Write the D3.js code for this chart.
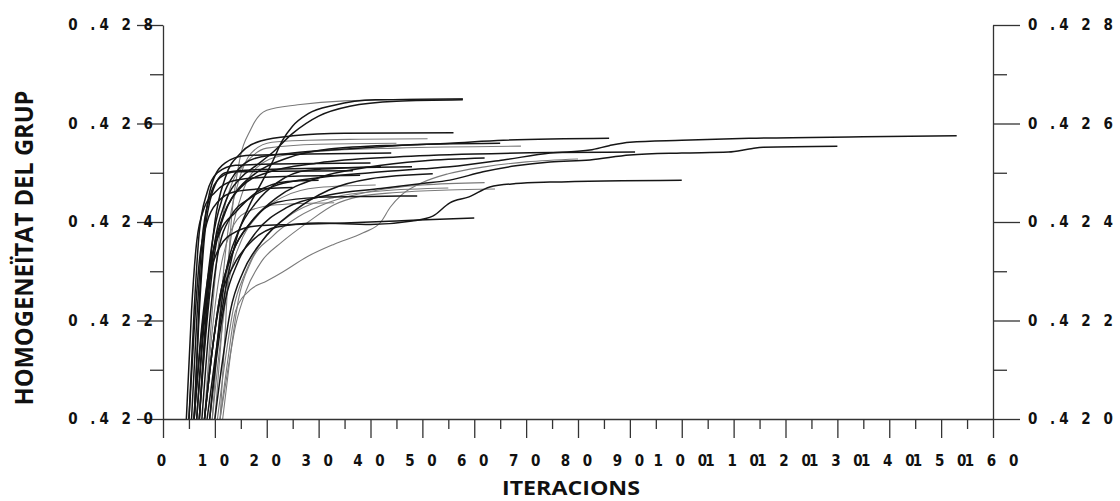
<!DOCTYPE html>
<html>
<head>
<meta charset="utf-8">
<script src="https://cdn.jsdelivr.net/npm/d3@7"></script>
<style>
  html, body { margin: 0; padding: 0; background: #fff; }
  .tick text { font-family: "Liberation Sans Narrow", "DejaVu Sans Condensed", sans-serif; font-weight: bold; font-size: 15px; letter-spacing: 4px; fill: #111; }
  .ttl { font-family: "Open Sans", "Noto Sans", sans-serif; font-weight: bold; fill: #111; }
</style>
</head>
<body>
<div id="vis-tag"></div>
<script>
// eix X: iteracions
const xTicks = d3.range(0, 161, 10);
const xMinor = d3.range(5, 160, 10);
// eix Y: homogeneïtat
const yTicks = [0.420, 0.422, 0.424, 0.426, 0.428];
const yMinor = [0.421, 0.423, 0.425, 0.427];

// sèries [iteració, homogeneïtat], llegides de la figura
const serieA = [[11,.4200],[12,.4218],[13,.4238],[14.5,.4251],[17,.4259],[20,.42627],[26,.42638],[35,.42646],[57.8,.42650]];
const serieB = [[8.5,.4200],[10,.4212],[12,.4226],[14,.4236],[16.5,.4243],[19,.4248],[21,.4252],[23,.42565],[25,.42595],[28,.42620],[33,.42637],[41,.42648],[57.8,.42650]];
const serieC = [[7,.4200],[8.5,.4222],[10,.4236],[12,.4244],[15,.4249],[18,.42515],[21,.4254],[25,.4258],[30,.42615],[36,.42635],[45,.42645],[57.8,.42648]];
const serieD = [[7.5,.4200],[9,.4220],[10.5,.4233],[13,.4241],[17,.4245],[22,.42475],[30,.42490],[40,.42500],[50,.42508],[55.3,.42512],[65.6,.42526],[74.6,.42540],[82.3,.42546],[86,.42555],[90,.42562],[100,.42566],[113,.42570],[135,.42573],[153,.42575]];
const serieE = [[9,.4200],[10.5,.4214],[12,.4224],[14.5,.4232],[18,.4238],[24,.4243],[32,.42455],[42,.42468],[50,.42478],[55.3,.42485],[61.7,.42502],[68,.42514],[74.6,.42522],[82.3,.42526],[90,.42536],[100,.42540],[109,.42542],[113,.42548],[115.7,.42552],[130,.42554]];
const serieF = [[8,.4200],[9.5,.4214],[11,.4224],[13.5,.4231],[17,.4236],[22,.4239],[30,.42398],[40,.42395],[48,.42402],[52,.42412],[55.3,.42439],[59,.42451],[63,.42471],[68,.42478],[74.6,.42481],[100,.42485]];
const serieG = [[6.5,.4200],[8,.4222],[9.5,.4236],[11.5,.4245],[14,.4250],[18,.42530],[25,.42540],[35,.42548],[45,.42555],[55.3,.42560],[65.6,.42566],[86,.42570]];
const serieH = [[7,.4200],[8.5,.4220],[10,.4234],[12,.4242],[15,.4247],[20,.4250],[30,.42520],[45,.42532],[60,.42538],[75,.42541],[91,.42542]];
const serieI = [[10,.4200],[11.5,.4220],[13,.4236],[15,.4245],[18,.4251],[23,.42535],[32,.42545],[45,.42550],[69,.42554]];
const serieJ = [[11,.4200],[12.5,.4212],[14,.4222],[16.8,.42262],[20,.4228],[23,.42298],[27.7,.42329],[33,.42355],[38.6,.42378],[42,.4240],[43.8,.4243],[46,.42455],[50,.4248],[55,.42498],[62,.42512],[70,.42522],[80,.42528]];
const serieK = [[11,.4200],[12.5,.4210],[14,.4219],[16,.4226],[19,.4232],[23,.4236],[28,.4240],[33,.42435],[38,.42452],[45,.4246],[55,.42465],[64,.42467]];
const serieL = [[6,.4200],[7.5,.4218],[9,.4229],[11,.4235],[14,.4238],[18,.42392],[25,.42395],[35,.42398],[45,.42402],[52,.42405],[60,.42408]];
const serieM = [[7,.4200],[8.5,.4224],[10,.4240],[12,.4249],[15,.4254],[19,.42565],[25,.42575],[35,.42580],[56,.42581]];
const serieN = [[9.5,.4200],[11,.4222],[12.5,.4238],[14.5,.4248],[17,.4254],[21,.42562],[28,.42566],[38,.42568],[51,.42569]];
const serieO = [[8,.4200],[9.5,.4214],[11,.4225],[13.5,.4234],[17,.4240],[22,.4245],[30,.4249],[40,.42512],[50,.42524],[62,.42530]];
const serieP = [[6,.4200],[7,.4222],[8,.4237],[9.5,.4246],[12,.4250],[16,.42505],[25,.42508],[35,.4251],[48,.42512]];
const serieQ = [[9,.4200],[10.5,.4216],[12,.4229],[14.5,.4238],[18,.4244],[22,.4248],[28,.42505],[42,.42512]];
const serieR = [[5.5,.4200],[6.5,.4220],[7.5,.4236],[9,.4245],[11,.4249],[14,.42502],[22,.42503],[36.6,.42504]];
const serieS = [[9.5,.4200],[11,.4215],[12.5,.4227],[15,.4236],[18,.4241],[23,.4245],[30,.42470],[41,.42475]];
const serieT = [[10.5,.4200],[12,.4212],[13.5,.4222],[16,.4230],[19,.4236],[24,.4241],[33,.42450],[42,.42463],[55,.42469]];
const serieU = [[8,.4200],[9.5,.4214],[11,.4225],[13.5,.4234],[17,.4240],[22,.4244],[30,.42450],[40,.42452],[49,.42453]];
const serieV = [[8,.4200],[9.5,.4218],[11,.4230],[13,.4238],[16,.4242],[22,.42435],[33,.42439]];
const serieW = [[5,.4200],[6,.4222],[7,.4238],[8.5,.4246],[10.5,.4250],[14,.42515],[22,.42518],[40,.4252]];
const serieX = [[6.5,.4200],[8,.4220],[9.5,.4233],[11.5,.4241],[14,.4246],[18,.4250],[24,.4253],[32,.42548],[45,.42556],[65,.42560]];
const serieY = [[8,.4200],[9.5,.4222],[11,.4238],[13,.4247],[16,.4252],[20,.4255],[30,.42558],[45,.4256]];
const serieZ = [[4.5,.4200],[5.5,.4222],[6.5,.4236],[8,.4243],[10,.4246],[14,.42485],[22,.42492],[38,.42495]];
const serieAA = [[6,.4200],[7.5,.4219],[9,.4231],[11,.4238],[14,.4242],[18,.4246],[24,.42482],[30,.42485]];
const serieAB = [[10,.4200],[11.5,.4212],[13,.4222],[15.5,.4230],[19,.4236],[25,.4242],[32,.42465],[40,.42488],[52,.42498]];
const serieAC = [[5,.4200],[6,.4218],[7,.4232],[8.5,.4240],[10.5,.4244],[14,.42462],[20,.42468],[25,.4247]];
const serieAD = [[6,.4200],[7,.4224],[8,.4239],[9.5,.4248],[12,.4252],[16,.42535],[28,.42538],[44,.4254]];
const serieAE = [[11.5,.4200],[13,.4213],[14.5,.4224],[17,.4232],[21,.4237],[26,.4241],[32,.4244],[40,.42462],[50,.42475],[62,.42480]];

// negre o gris
const seriesNegres = [serieB, serieC, serieD, serieE, serieF, serieG, serieH, serieL, serieM, serieO, serieP, serieQ, serieR, serieU, serieW, serieX, serieZ, serieAA, serieAB, serieAC, serieAD];
const seriesGrises = [serieA, serieI, serieJ, serieK, serieN, serieS, serieT, serieV, serieY, serieAE];

const width = 1120, height = 501;
const margin = { top: 25, right: 127, bottom: 82, left: 163 };

const svg = d3.select("#vis-tag").append("svg")
  .attr("width", width).attr("height", height);

const x = d3.scaleLinear().domain([0, 160]).range([margin.left, width - margin.right]);
const y = d3.scaleLinear().domain([0.420, 0.428]).range([height - margin.bottom, margin.top]);

const spaced = d => String(d).split("").join(" ");
const fmtY = d => { const s = d.toFixed(3).split(""); return s[0] + " " + s[1] + s[2] + " " + s[3] + " " + s[4]; };

// línies
const line = d3.line().x(d => x(d[0])).y(d => y(d[1])).curve(d3.curveMonotoneX);
svg.append("g").selectAll("path").data(seriesGrises).enter().append("path")
  .attr("d", line).attr("fill", "none").attr("stroke", "#7a7a7a").attr("stroke-width", 1.1);
svg.append("g").selectAll("path").data(seriesNegres).enter().append("path")
  .attr("d", line).attr("fill", "none").attr("stroke", "#161616").attr("stroke-width", 1.5);

// eix X
const gx = svg.append("g").attr("transform", `translate(0,${y(0.420)})`);
gx.call(d3.axisBottom(x).tickValues(xTicks).tickFormat(spaced).tickSizeInner(19).tickSizeOuter(0).tickPadding(17));
gx.append("g").call(d3.axisBottom(x).tickValues(xMinor).tickFormat("").tickSizeInner(10).tickSizeOuter(0))
  .select(".domain").remove();

// eix Y esquerre
const gyl = svg.append("g").attr("transform", `translate(${x(0)},0)`);
gyl.call(d3.axisLeft(y).tickValues(yTicks).tickFormat(fmtY).tickSizeInner(26).tickSizeOuter(0));
gyl.selectAll(".tick text").attr("x", -6);
gyl.append("g").call(d3.axisLeft(y).tickValues(yMinor).tickFormat("").tickSizeInner(13).tickSizeOuter(0))
  .select(".domain").remove();

// eix Y dret
const gyr = svg.append("g").attr("transform", `translate(${x(160)},0)`);
gyr.call(d3.axisRight(y).tickValues(yTicks).tickFormat(fmtY).tickSizeInner(27).tickSizeOuter(0).tickPadding(8));
gyr.append("g").call(d3.axisRight(y).tickValues(yMinor).tickFormat("").tickSizeInner(14).tickSizeOuter(0))
  .select(".domain").remove();

svg.selectAll(".domain, .tick line").attr("stroke", "#333").attr("stroke-width", 1.3);

// títols
svg.append("text").attr("class", "ttl")
  .attr("x", 571).attr("y", 495).attr("text-anchor", "middle")
  .attr("font-size", 19).attr("textLength", 138).attr("lengthAdjust", "spacingAndGlyphs")
  .text("ITERACIONS");
svg.append("text").attr("class", "ttl")
  .attr("transform", "translate(33,248) rotate(-90)").attr("text-anchor", "middle")
  .attr("font-size", 25).attr("textLength", 315).attr("lengthAdjust", "spacingAndGlyphs")
  .text("HOMOGENEÏTAT DEL GRUP");
</script>
</body>
</html>
